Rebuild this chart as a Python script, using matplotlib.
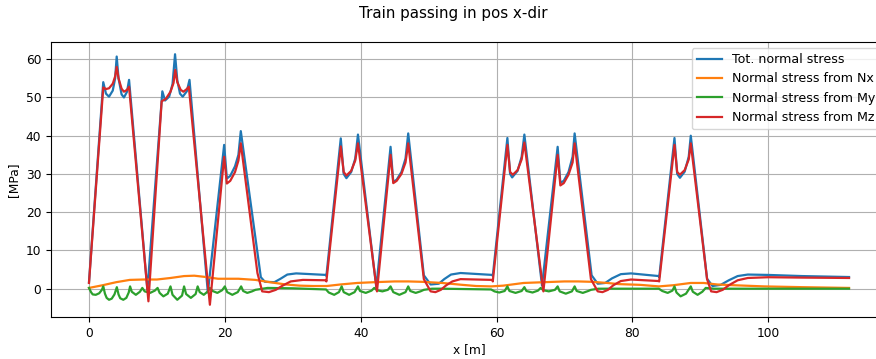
import numpy as np
import matplotlib.pyplot as plt

# normal stress in the section while the train passes (x = front axle position)
x_tot = [0, 2.1, 2.5, 2.95, 3.5, 3.85, 4.08, 4.35, 4.8, 5.15, 5.6, 5.9, 8.6,
         10.8, 11.2, 11.8, 12.3, 12.67, 13.0, 13.4, 13.8, 14.4, 14.8, 17.5,
         19.9, 20.3, 20.8, 21.5, 22.0, 22.35, 25.3, 25.9, 27.3, 28.2, 29.2, 30.5, 34.9,
         34.95, 37.07, 37.5, 37.9, 38.6, 39.2, 39.6, 42.3, 44.4, 44.8, 45.3, 46.0, 46.6, 47.0,
         49.3, 50.3, 51.5, 52.3, 53.3, 54.7, 59.4,
         59.45, 61.6, 62.0, 62.3, 63.1, 63.7, 64.1, 66.7, 69.0, 69.4, 69.9, 70.6, 71.2, 71.5,
         74.0, 74.9, 76.0, 77.0, 78.3, 79.8, 83.9,
         83.95, 86.2, 86.6, 87.0, 87.7, 88.3, 88.6, 91.0, 91.8, 93.0, 94.2, 95.5, 97.0,
         100, 105, 111.9]
s_tot = [1.7, 54.0, 51.0, 50.2, 51.8, 55.0, 60.7, 55.0, 50.8, 50.0, 51.5, 54.6, -0.3,
         51.6, 49.2, 50.2, 53.5, 61.3, 54.5, 51.0, 50.2, 51.6, 54.6, -1.0,
         37.6, 28.8, 29.5, 32.0, 35.0, 41.2, 3.0, 1.8, 1.7, 2.6, 3.7, 4.0, 3.6,
         3.3, 39.3, 30.0, 28.9, 30.5, 34.0, 40.3, 0.4, 37.1, 27.9, 28.5, 30.5, 34.0, 40.6,
         3.5, 1.1, 1.3, 2.5, 3.7, 4.1, 3.6,
         3.3, 39.4, 30.0, 29.1, 30.8, 34.5, 40.3, 0.8, 37.1, 27.7, 28.2, 30.5, 34.5, 40.6,
         3.5, 1.3, 1.5, 2.7, 3.8, 4.0, 3.3,
         3.0, 39.4, 30.0, 29.0, 30.6, 34.5, 40.0, 2.6, 0.7, 1.0, 2.2, 3.3, 3.7,
         3.6, 3.3, 3.05]

x_nx = [0, 2, 4, 6, 8, 10, 12, 14, 15.5, 17, 19, 22, 24.5, 27, 29, 31, 33, 35,
        37, 39.5, 42, 45, 47, 49, 52, 55, 57, 59.2, 61, 64, 67, 70, 72, 74,
        76.3, 78, 81.2, 83.9, 86, 88.6, 90.5, 92.5, 95, 99.4, 105, 111.9]
s_nx = [0.2, 0.9, 1.7, 2.3, 2.4, 2.4, 2.8, 3.3, 3.4, 3.1, 2.6, 2.6, 2.3, 1.6, 1.1, 0.8, 0.7, 0.7,
        1.1, 1.5, 1.7, 1.9, 1.9, 1.8, 1.5, 1.0, 0.7, 0.6, 0.8, 1.5, 1.7, 1.9, 1.9, 1.8,
        1.5, 1.2, 1.0, 0.6, 0.9, 1.5, 1.5, 1.1, 0.9, 0.6, 0.4, 0.2]

x_my = [0, 0.3, 0.55, 1.0, 1.5, 1.9, 2.1, 2.35, 2.6, 2.95, 3.35, 3.75, 4.1, 4.35, 4.6, 5.05,
        5.5, 5.85, 6.05, 6.3, 6.9, 7.5, 7.85, 8.2, 9.0, 9.7, 10.1, 10.4, 10.95, 11.6, 12.0,
        12.3, 13.0, 13.7, 14.0, 14.3, 15.0, 15.7, 16.0, 16.3, 16.9, 17.5, 17.8, 18.2, 18.9,
        19.6, 20.0, 20.35, 21.1, 21.9, 22.4, 22.7, 23.3, 24.0, 24.5, 26.3, 30, 34.9,
        35.3, 36.1, 36.8, 37.2, 37.5, 38.3, 39.1, 39.6, 39.9, 40.75, 41.6, 42.0, 42.4, 43.2,
        44.0, 44.4, 44.8, 45.7, 46.6, 47.0, 47.3, 48.1, 48.8, 49.3, 50.5, 52, 59.2,
        59.7, 60.4, 61.2, 61.6, 61.9, 62.8, 63.7, 64.1, 64.4, 65.3, 66.1, 66.5, 66.9, 67.7,
        68.6, 69.0, 69.3, 70.2, 71.1, 71.5, 71.8, 72.7, 73.5, 73.9, 75, 78, 83.9,
        84.4, 85.2, 85.9, 86.2, 86.5, 87.1, 87.9, 88.6, 88.9, 89.6, 90.3, 90.8, 92, 95, 111.9]
s_my = [0.2, -0.9, -1.5, -1.6, -1.2, -0.3, 0.6, -1.3, -2.4, -2.9, -2.6, -1.5, 0.4, -1.5, -2.5, -2.9,
        -2.4, -1.0, 0.6, -0.8, -1.6, -0.8, 0.2, -0.7, -1.1, -0.5, 0.2, -1.1, -2.0, -1.3, 0.6,
        -1.6, -2.9, -1.8, 0.6, -1.4, -2.4, -1.4, 0.6, -0.9, -1.6, -0.7, 0.2, -0.6, -1.1,
        -0.4, 0.6, -0.9, -1.6, -0.9, 0.6, -0.6, -1.1, -0.7, -0.3, 0.2, 0.1, -0.2,
        -1.0, -1.6, -0.9, 0.6, -0.9, -1.6, -0.9, 0.6, -0.6, -1.1, -0.5, 0.2, -0.4, -0.7,
        -0.3, 0.6, -0.9, -1.6, -0.9, 0.6, -0.6, -1.1, -0.7, -0.3, 0.0, 0.0, -0.2,
        -0.7, -1.0, -0.6, 0.6, -0.6, -1.1, -0.6, 0.4, -0.6, -1.0, -0.5, 0.2, -0.4, -0.7,
        -0.3, 0.6, -0.7, -1.3, -0.7, 0.6, -0.6, -1.1, -0.6, -0.3, 0.0, 0.0, 0.0,
        -0.6, -1.1, -0.5, 0.6, -1.0, -2.0, -1.3, 0.6, -0.8, -1.6, -0.8, 0.2, 0.0, 0.0, 0.0]

x_mz = [0, 2.1, 2.5, 2.95, 3.5, 3.85, 4.08, 4.35, 4.8, 5.15, 5.6, 5.9, 8.75,
        10.7, 11.3, 12.0, 12.45, 12.7, 13.0, 13.5, 13.9, 14.4, 14.7, 17.8,
        19.9, 20.3, 20.8, 21.5, 22.0, 22.35, 24.8, 25.5, 26.5, 27.5, 28.5, 29.7, 31.5, 34.9,
        34.95, 37.07, 37.5, 37.9, 38.6, 39.2, 39.6, 42.4, 44.4, 44.8, 45.3, 46.0, 46.6, 47.0,
        49.3, 50.3, 51.0, 51.8, 52.6, 53.5, 54.7, 57, 59.4,
        59.45, 61.6, 62.0, 62.4, 63.1, 63.7, 64.1, 66.9, 69.0, 69.4, 69.9, 70.6, 71.2, 71.5,
        73.9, 74.9, 75.6, 76.4, 77.2, 78.3, 79.8, 83.9,
        83.95, 86.2, 86.6, 87.0, 87.7, 88.3, 88.6, 91.0, 91.6, 92.4, 93.3, 94.2, 95.5, 97.0,
        100, 105, 111.9]
s_mz = [1.5, 52.6, 52.2, 52.4, 53.6, 55.5, 58.0, 55.0, 52.3, 51.5, 52.0, 52.8, -3.3,
        49.0, 49.6, 51.5, 53.8, 57.2, 54.0, 52.0, 51.5, 52.2, 52.8, -4.2,
        34.5, 27.5, 28.2, 30.5, 33.5, 38.0, 4.1, -0.7, -0.9, -0.3, 0.8, 1.9, 2.3, 2.2,
        1.9, 37.2, 30.5, 29.6, 30.8, 33.5, 38.0, -0.7, 35.0, 27.6, 28.2, 30.0, 33.0, 38.0,
        2.5, -0.7, -0.9, -0.3, 0.9, 1.9, 2.5, 2.4, 2.3,
        1.9, 37.6, 30.5, 29.8, 31.0, 33.8, 38.2, -0.7, 35.0, 27.0, 27.6, 29.8, 33.0, 38.0,
        2.5, -0.7, -0.9, -0.3, 0.9, 2.0, 2.4, 2.0,
        1.9, 37.6, 30.5, 29.8, 31.0, 33.8, 38.0, 2.5, -0.7, -0.9, -0.3, 0.9, 2.2, 2.8,
        3.0, 2.9, 2.8]

fig = plt.figure(figsize=(8.76, 3.59), dpi=100)
ax = fig.add_axes([0.0582, 0.1162, 0.9544, 0.7676])

ax.plot(x_tot, s_tot, color='#1f77b4', lw=1.6, label='Tot. normal stress')
ax.plot(x_nx, s_nx, color='#ff7f0e', lw=1.6, label='Normal stress from Nx')
ax.plot(x_my, s_my, color='#2ca02c', lw=1.6, label='Normal stress from My')
ax.plot(x_mz, s_mz, color='#d62728', lw=1.6, label='Normal stress from Mz')

ax.set_xticks(np.arange(0, 101, 20))
ax.set_yticks(np.arange(0, 61, 10))
ax.tick_params(labelsize=8.8)
ax.grid(True, color='#b0b0b0', lw=0.8)
ax.set_xlabel('x [m]', fontsize=8.8, labelpad=2)
ax.set_ylabel('[MPa]', fontsize=8.8)
ax.legend(loc='upper right', fontsize=9.1)

fig.text(0.517, 0.963, 'Train passing in pos x-dir', ha='center', va='center', fontsize=10.9)

fig.savefig('out.png', dpi=100)
